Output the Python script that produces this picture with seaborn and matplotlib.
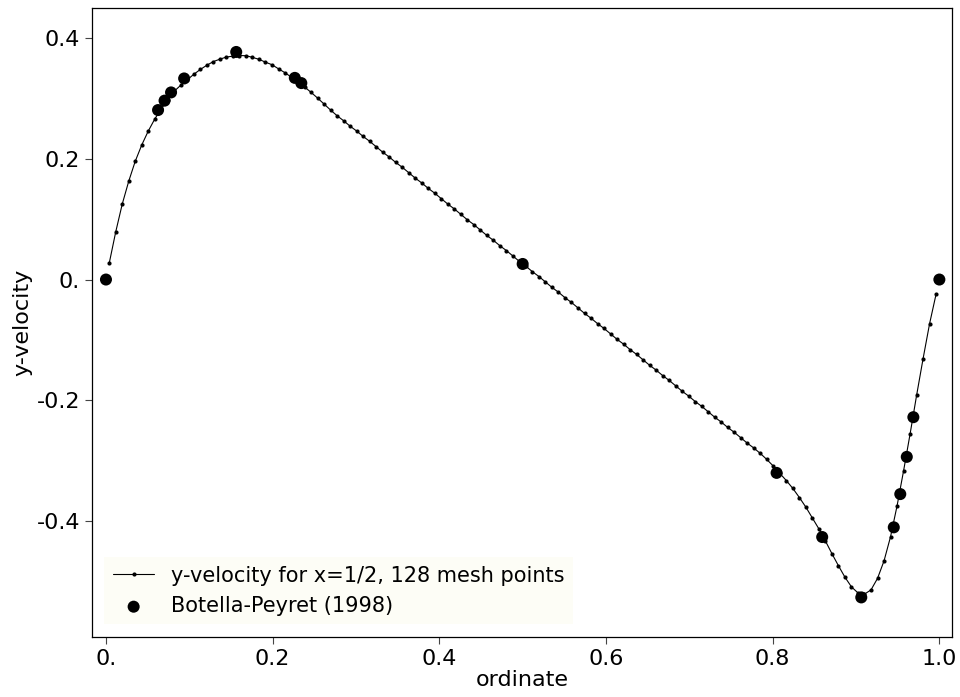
import numpy as np
import pandas as pd
import matplotlib
matplotlib.use("Agg")
import matplotlib.pyplot as plt
import seaborn as sns

# computed solution: v along the horizontal centre line, 128 cell-centred mesh points
n_mesh = 128
mesh_x = (np.arange(n_mesh) + 0.5) / n_mesh
v_sim = [
    0.027, 0.079, 0.125, 0.163, 0.196, 0.223, 0.246, 0.266,
    0.283, 0.298, 0.312, 0.322, 0.331, 0.340, 0.348, 0.355,
    0.361, 0.365, 0.3685, 0.370, 0.371, 0.3707, 0.368, 0.3647,
    0.360, 0.3558, 0.349, 0.3425, 0.335, 0.327, 0.319, 0.310,
    0.3006, 0.2907, 0.2807, 0.2713, 0.263, 0.254, 0.246, 0.237,
    0.229, 0.220, 0.211, 0.203, 0.194, 0.186, 0.177, 0.168,
    0.160, 0.151, 0.143, 0.134, 0.125, 0.117, 0.108, 0.099,
    0.091, 0.082, 0.073, 0.065, 0.056, 0.048, 0.039, 0.030,
    0.022, 0.013, 0.005, -0.004, -0.013, -0.021, -0.030, -0.038,
    -0.047, -0.056, -0.064, -0.073, -0.081, -0.090, -0.099, -0.107,
    -0.116, -0.124, -0.133, -0.142, -0.150, -0.159, -0.167, -0.176,
    -0.185, -0.193, -0.202, -0.210, -0.219, -0.228, -0.236, -0.245,
    -0.253, -0.262, -0.271, -0.279, -0.288, -0.298, -0.309, -0.321,
    -0.333, -0.346, -0.361, -0.377, -0.395, -0.413, -0.433, -0.454,
    -0.474, -0.493, -0.509, -0.519, -0.521, -0.514, -0.495, -0.466,
    -0.426, -0.375, -0.317, -0.256, -0.192, -0.131, -0.073, -0.024,
]

# Botella & Peyret (1998) benchmark, Re = 1000
bp_x = [1.0000, 0.9688, 0.9609, 0.9531, 0.9453, 0.9063, 0.8594, 0.8047, 0.5000,
        0.2344, 0.2266, 0.1563, 0.0938, 0.0781, 0.0703, 0.0625, 0.0000]
bp_v = [0.0000, -0.2279533, -0.2936869, -0.3553213, -0.4103754, -0.5264392,
        -0.4264545, -0.3202137, 0.0257995, 0.3253592, 0.3339924, 0.3769189,
        0.3330442, 0.3099097, 0.2962703, 0.2807056, 0.0000]

xtick_vals = [0.0, 0.2, 0.4, 0.6, 0.8, 1.0]
xtick_labels = ["0.", "0.2", "0.4", "0.6", "0.8", "1.0"]
ytick_vals = [-0.4, -0.2, 0.0, 0.2, 0.4]
ytick_labels = ["-0.4", "-0.2", "0.", "0.2", "0.4"]

sim = pd.DataFrame({"x": mesh_x, "v": v_sim})
ref = pd.DataFrame({"x": bp_x, "v": bp_v})

sns.set_style("ticks")
plt.rcParams["font.family"] = ["DejaVu Sans"]
plt.rcParams["text.color"] = "black"
plt.rcParams["axes.labelcolor"] = "black"
plt.rcParams["xtick.color"] = "black"
plt.rcParams["ytick.color"] = "black"

fig = plt.figure(figsize=(9.6, 6.97), dpi=100)
ax = fig.add_axes([0.0958, 0.0861, 0.8959, 0.9024])

sns.lineplot(data=sim, x="x", y="v", ax=ax, color="black", linewidth=0.8,
             marker="o", markersize=3, markeredgewidth=0, sort=False,
             label="y-velocity for x=1/2, 128 mesh points")
sns.scatterplot(data=ref, x="x", y="v", ax=ax, color="black", s=75,
                edgecolor="none", label="Botella-Peyret (1998)", zorder=3)

ax.set_xlim(-0.0168, 1.0152)
ax.set_ylim(-0.592, 0.4497)
ax.set_xticks(xtick_vals)
ax.set_xticklabels(xtick_labels)
ax.set_yticks(ytick_vals)
ax.set_yticklabels(ytick_labels)
ax.tick_params(axis="both", labelsize=16, length=5, width=0.8, direction="out",
               color="#444444", labelcolor="black")
ax.set_xlabel("ordinate", fontsize=16, labelpad=1)
ax.set_ylabel("y-velocity", fontsize=16, labelpad=3)
for sp in ax.spines.values():
    sp.set_visible(True)
    sp.set_color("black")
    sp.set_linewidth(0.9)

leg = ax.legend(loc="lower left", fontsize=15, frameon=True, fancybox=False,
                facecolor="#fdfdf6", edgecolor="none", framealpha=1,
                borderaxespad=0.6)

fig.savefig("out.png", dpi=100)
